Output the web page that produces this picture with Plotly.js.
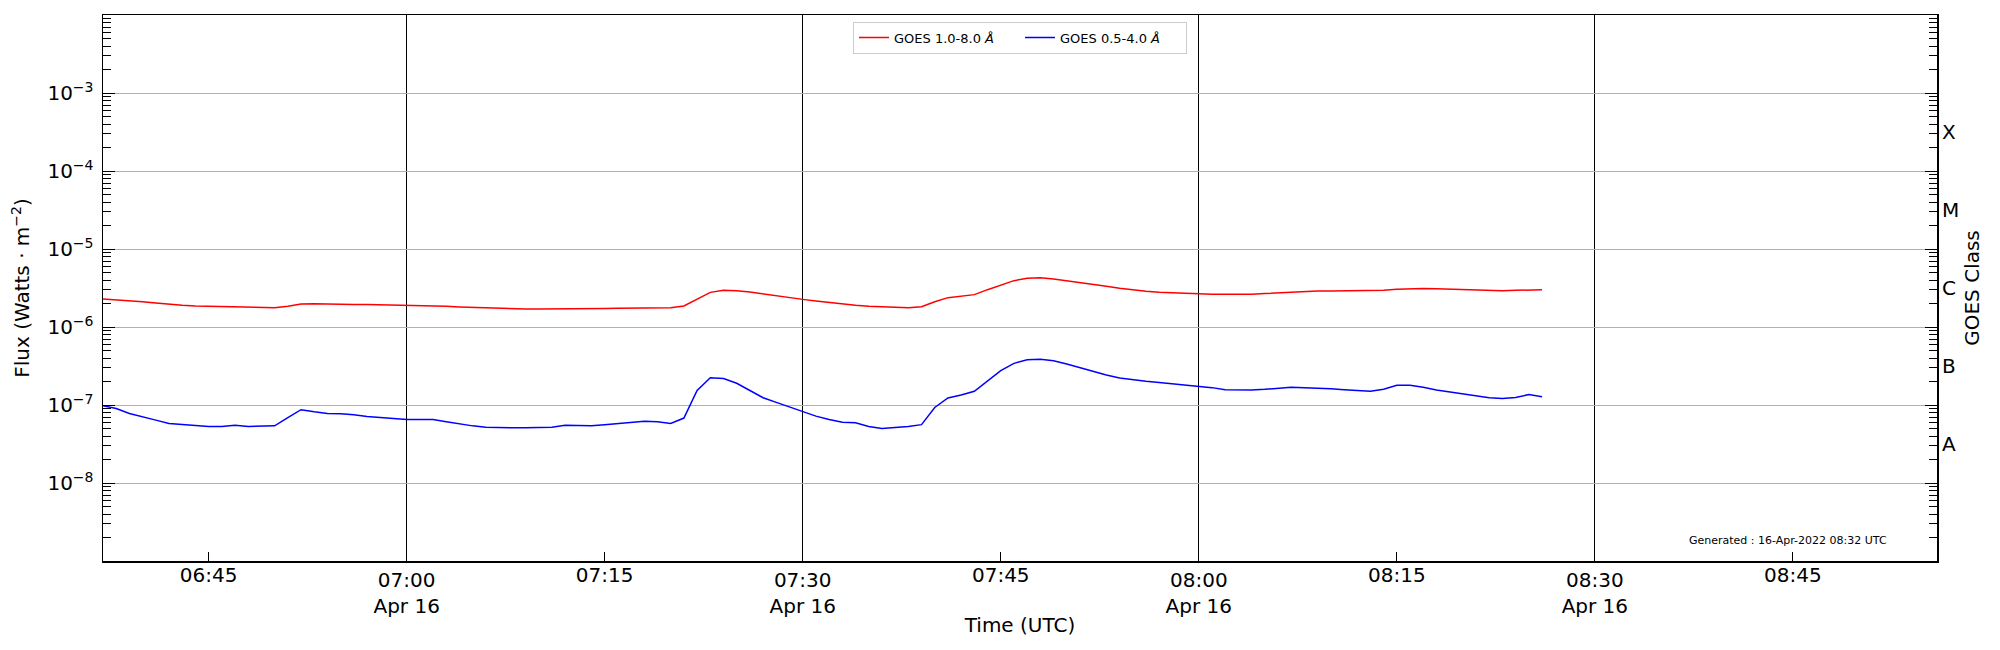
<!DOCTYPE html>
<html>
<head>
<meta charset="utf-8">
<script src="https://cdn.plot.ly/plotly-3.0.1.min.js"></script>
<style>
  html, body { margin: 0; padding: 0; background: #fff; }
  #goes-plot { width: 2000px; height: 650px; }
</style>
</head>
<body>
<div id="goes-plot"></div>
<script>
// GOES XRS one-minute fluxes, 16 Apr 2022
var day = '2022-04-16 ';

var timeLabels = [
    '06:37', '06:38', '06:39', '06:40', '06:41', '06:42', '06:43', '06:44', '06:45', '06:46',
    '06:47', '06:48', '06:49', '06:50', '06:51', '06:52', '06:53', '06:54', '06:55', '06:56',
    '06:57', '06:58', '06:59', '07:00', '07:01', '07:02', '07:03', '07:04', '07:05', '07:06',
    '07:07', '07:08', '07:09', '07:10', '07:11', '07:12', '07:13', '07:14', '07:15', '07:16',
    '07:17', '07:18', '07:19', '07:20', '07:21', '07:22', '07:23', '07:24', '07:25', '07:26',
    '07:27', '07:28', '07:29', '07:30', '07:31', '07:32', '07:33', '07:34', '07:35', '07:36',
    '07:37', '07:38', '07:39', '07:40', '07:41', '07:42', '07:43', '07:44', '07:45', '07:46',
    '07:47', '07:48', '07:49', '07:50', '07:51', '07:52', '07:53', '07:54', '07:55', '07:56',
    '07:57', '07:58', '07:59', '08:00', '08:01', '08:02', '08:03', '08:04', '08:05', '08:06',
    '08:07', '08:08', '08:09', '08:10', '08:11', '08:12', '08:13', '08:14', '08:15', '08:16',
    '08:17', '08:18', '08:19', '08:20', '08:21', '08:22', '08:23', '08:24', '08:25', '08:26'
];

// 1.0-8.0 A channel (W m^-2)
var xrsb = [
    2.29e-6, 2.24e-6, 2.18e-6, 2.11e-6, 2.03e-6, 1.95e-6, 1.90e-6, 1.86e-6, 1.84e-6, 1.82e-6,
    1.81e-6, 1.79e-6, 1.77e-6, 1.77e-6, 1.84e-6, 1.97e-6, 1.99e-6, 1.99e-6, 1.97e-6, 1.95e-6,
    1.94e-6, 1.93e-6, 1.91e-6, 1.90e-6, 1.89e-6, 1.86e-6, 1.84e-6, 1.81e-6, 1.78e-6, 1.75e-6,
    1.74e-6, 1.72e-6, 1.70e-6, 1.70e-6, 1.70e-6, 1.71e-6, 1.71e-6, 1.72e-6, 1.73e-6, 1.74e-6,
    1.74e-6, 1.75e-6, 1.76e-6, 1.77e-6, 1.86e-6, 2.26e-6, 2.78e-6, 2.95e-6, 2.92e-6, 2.81e-6,
    2.65e-6, 2.50e-6, 2.38e-6, 2.26e-6, 2.15e-6, 2.05e-6, 1.95e-6, 1.90e-6, 1.84e-6, 1.81e-6,
    1.77e-6, 1.76e-6, 1.82e-6, 2.11e-6, 2.38e-6, 2.47e-6, 2.60e-6, 3.01e-6, 3.46e-6, 3.93e-6,
    4.21e-6, 4.29e-6, 4.13e-6, 3.93e-6, 3.74e-6, 3.52e-6, 3.32e-6, 3.13e-6, 2.98e-6, 2.87e-6,
    2.78e-6, 2.73e-6, 2.68e-6, 2.65e-6, 2.63e-6, 2.62e-6, 2.62e-6, 2.62e-6, 2.68e-6, 2.73e-6,
    2.81e-6, 2.87e-6, 2.90e-6, 2.90e-6, 2.90e-6, 2.90e-6, 2.90e-6, 2.95e-6, 3.04e-6, 3.10e-6,
    3.12e-6, 3.10e-6, 3.07e-6, 3.04e-6, 2.98e-6, 2.94e-6, 2.91e-6, 2.95e-6, 3.01e-6, 3.01e-6
];

// 0.5-4.0 A channel (W m^-2)
var xrsa = [
    0.98e-7, 0.90e-7, 0.78e-7, 0.70e-7, 0.64e-7, 0.58e-7, 0.56e-7, 0.55e-7, 0.53e-7, 0.53e-7,
    0.55e-7, 0.53e-7, 0.54e-7, 0.54e-7, 0.69e-7, 0.87e-7, 0.82e-7, 0.78e-7, 0.77e-7, 0.75e-7,
    0.71e-7, 0.69e-7, 0.68e-7, 0.65e-7, 0.65e-7, 0.65e-7, 0.61e-7, 0.57e-7, 0.54e-7, 0.52e-7,
    0.51e-7, 0.51e-7, 0.51e-7, 0.51e-7, 0.52e-7, 0.55e-7, 0.55e-7, 0.54e-7, 0.56e-7, 0.58e-7,
    0.59e-7, 0.62e-7, 0.61e-7, 0.58e-7, 0.68e-7, 1.54e-7, 2.24e-7, 2.18e-7, 1.90e-7, 1.54e-7,
    1.24e-7, 1.08e-7, 0.94e-7, 0.83e-7, 0.72e-7, 0.65e-7, 0.60e-7, 0.59e-7, 0.53e-7, 0.50e-7,
    0.51e-7, 0.53e-7, 0.56e-7, 0.93e-7, 1.23e-7, 1.34e-7, 1.50e-7, 2.03e-7, 2.76e-7, 3.42e-7,
    3.81e-7, 3.85e-7, 3.70e-7, 3.36e-7, 3.01e-7, 2.70e-7, 2.43e-7, 2.22e-7, 2.09e-7, 2.01e-7,
    1.95e-7, 1.88e-7, 1.82e-7, 1.75e-7, 1.67e-7, 1.57e-7, 1.56e-7, 1.56e-7, 1.59e-7, 1.64e-7,
    1.69e-7, 1.67e-7, 1.65e-7, 1.62e-7, 1.57e-7, 1.53e-7, 1.50e-7, 1.59e-7, 1.79e-7, 1.79e-7,
    1.69e-7, 1.56e-7, 1.47e-7, 1.40e-7, 1.30e-7, 1.24e-7, 1.21e-7, 1.25e-7, 1.36e-7, 1.28e-7
];

// x ticks: labelled half hours (with date, gridded) and quarter hours in between
var majorTicks = ['07:00', '07:30', '08:00', '08:30'];
var majorTickText = ['07:00<br>Apr 16', '07:30<br>Apr 16', '08:00<br>Apr 16', '08:30<br>Apr 16'];
var minorTicks = ['06:45', '07:15', '07:45', '08:15', '08:45'];
var timeRange = ['06:37:00', '08:55:55'];

// y ticks
var fluxTicks = [1e-8, 1e-7, 1e-6, 1e-5, 1e-4, 1e-3];
var fluxTickText = ['10<sup>−8</sup>', '10<sup>−7</sup>', '10<sup>−6</sup>',
                    '10<sup>−5</sup>', '10<sup>−4</sup>', '10<sup>−3</sup>'];
var classLabels = ['A', 'B', 'C', 'M', 'X'];
var classCenters = [3.162e-8, 3.162e-7, 3.162e-6, 3.162e-5, 3.162e-4];

function stamp(t) { return day + t; }

var times = timeLabels.map(stamp);
var xRange = timeRange.map(stamp);
var logRange = [-9, -2];

var FONT = 'DejaVu Sans, Liberation Sans, sans-serif';
var FS = 20;

var traceB = {
    x: times, y: xrsb,
    type: 'scatter', mode: 'lines',
    name: 'GOES 1.0-8.0 <i>Å</i>',
    line: {color: '#ff0000', width: 1.5},
    xaxis: 'x', yaxis: 'y'
};

var traceA = {
    x: times, y: xrsa,
    type: 'scatter', mode: 'lines',
    name: 'GOES 0.5-4.0 <i>Å</i>',
    line: {color: '#0000ff', width: 1.5},
    xaxis: 'x2', yaxis: 'y2'
};

var layout = {
    width: 2000,
    height: 650,
    margin: {l: 103, r: 63, t: 15, b: 89},
    paper_bgcolor: '#ffffff',
    plot_bgcolor: '#ffffff',
    font: {family: FONT, size: FS, color: '#000'},
    showlegend: true,
    legend: {
        orientation: 'h',
        x: 0.5, xanchor: 'center',
        y: 0.988, yanchor: 'top',
        bgcolor: 'rgba(255,255,255,0.85)',
        bordercolor: '#cccccc', borderwidth: 1,
        font: {family: FONT, size: 13, color: '#000'},
        itemwidth: 30,
        entrywidth: 121
    },
    xaxis: {
        type: 'date',
        range: xRange,
        tickmode: 'array',
        tickvals: majorTicks.map(stamp),
        ticktext: majorTickText,
        ticks: 'inside', ticklen: 9, tickwidth: 1, tickcolor: '#000',
        showgrid: true, gridcolor: '#000000', gridwidth: 1,
        showline: true, linecolor: '#000', linewidth: 1.5, mirror: true,
        zeroline: false,
        tickfont: {size: FS},
        title: {text: 'Time (UTC)', font: {size: FS}, standoff: 1}
    },
    xaxis2: {
        type: 'date',
        overlaying: 'x',
        anchor: 'y2',
        side: 'bottom',
        range: xRange,
        tickmode: 'array',
        tickvals: minorTicks.map(stamp),
        ticktext: minorTicks,
        ticks: 'inside', ticklen: 9, tickwidth: 1, tickcolor: '#000',
        showgrid: false, showline: false, zeroline: false,
        tickfont: {size: FS}
    },
    yaxis: {
        type: 'log',
        range: logRange,
        tickmode: 'array',
        tickvals: fluxTicks,
        ticktext: fluxTickText,
        ticks: 'inside', ticklen: 12, tickwidth: 1, tickcolor: '#000',
        minor: {ticks: 'inside', ticklen: 8, tickwidth: 1, tickcolor: '#000', dtick: 'D1', showgrid: false},
        showgrid: true, gridcolor: '#b0b0b0', gridwidth: 1,
        showline: true, linecolor: '#000', linewidth: 1.5, mirror: 'allticks',
        zeroline: false,
        ticklabelstandoff: 4,
        tickfont: {size: FS},
        title: {text: 'Flux (Watts · m<sup>−2</sup>)', font: {size: FS}, standoff: 12}
    },
    yaxis2: {
        type: 'log',
        overlaying: 'y',
        anchor: 'x2',
        side: 'right',
        range: logRange,
        tickmode: 'array',
        tickvals: classCenters,
        ticktext: classLabels,
        ticks: '',
        showgrid: false, showline: false, zeroline: false,
        ticklabelstandoff: 4,
        tickfont: {size: FS},
        title: {text: 'GOES Class', font: {size: FS}, standoff: 6}
    },
    annotations: [{
        xref: 'paper', yref: 'paper',
        x: 0.974, y: 0.022,
        xanchor: 'right', yanchor: 'bottom',
        text: 'Generated : 16-Apr-2022 08:32 UTC',
        showarrow: false,
        font: {family: FONT, size: 11, color: '#000'}
    }]
};

Plotly.newPlot('goes-plot', [traceB, traceA], layout, {displayModeBar: false, staticPlot: true});
</script>
</body>
</html>
